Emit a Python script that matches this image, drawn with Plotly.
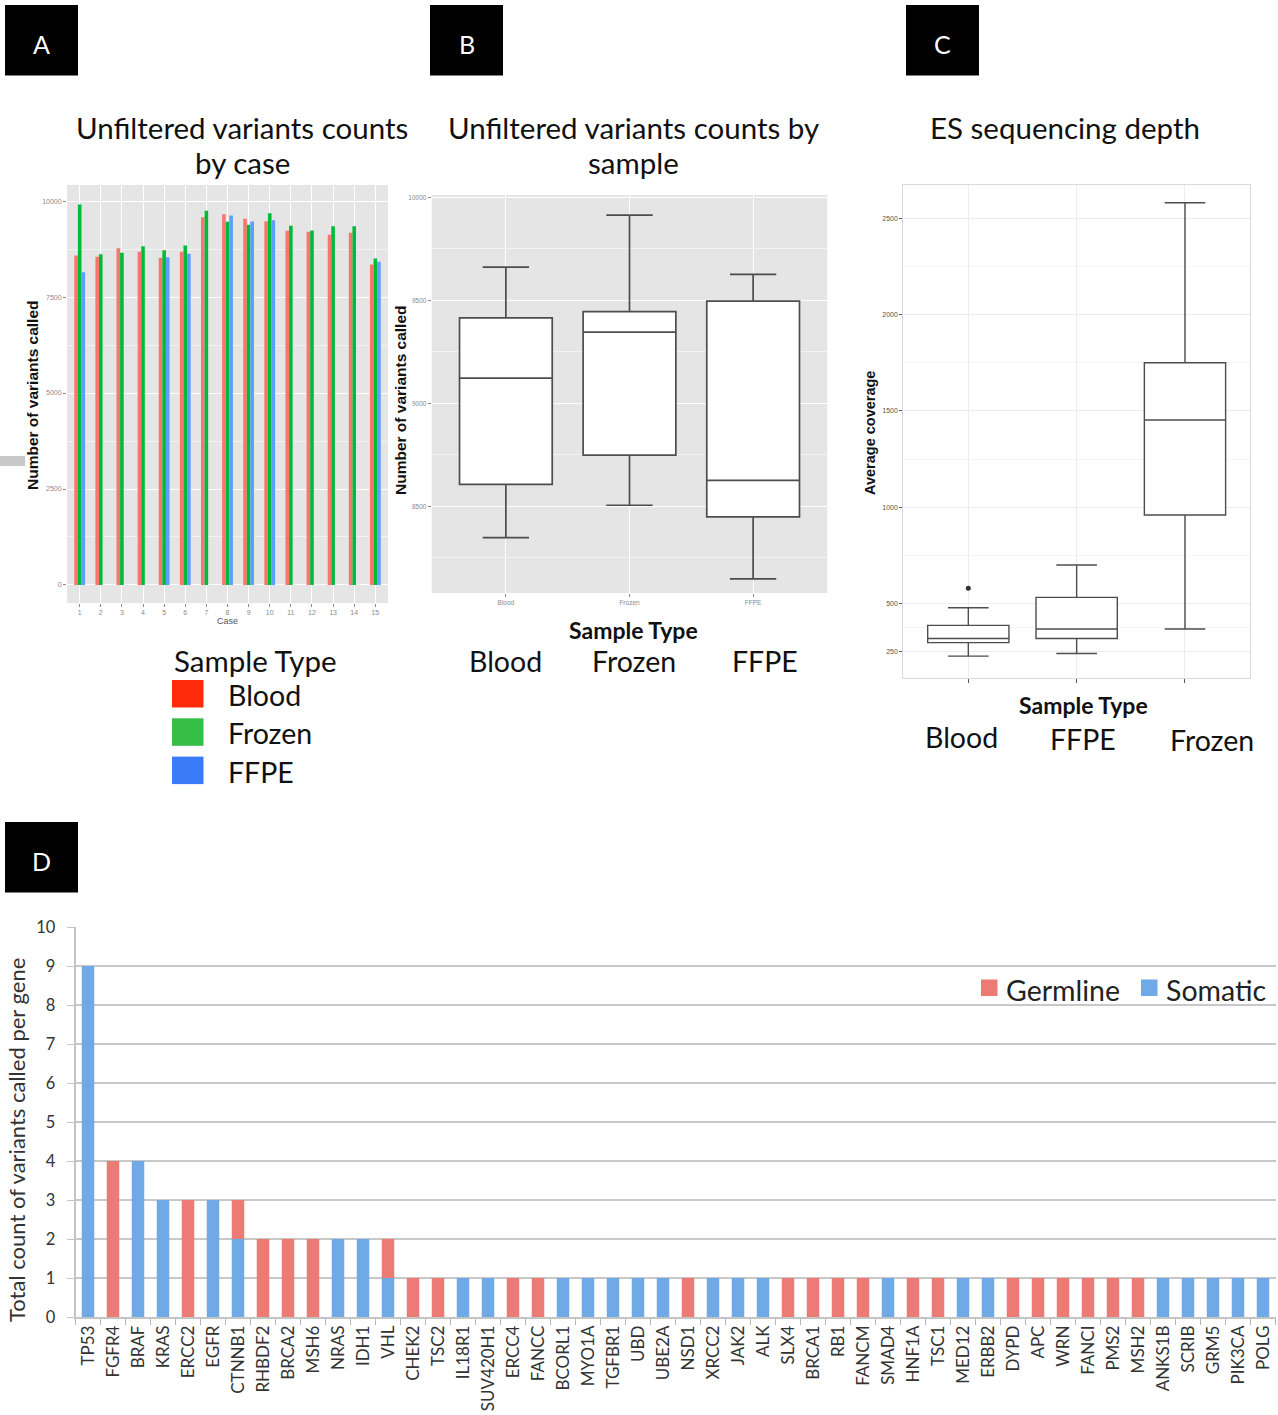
import plotly.graph_objects as go

W, H = 1278, 1415

# ---------------- Panel A / B data: unfiltered variant counts per case ----------------
cases = list(range(1, 16))
blood = [8583, 8548, 8774, 8678, 8522, 8678, 9583, 9661, 9539, 9478, 9226, 9200, 9122, 9174, 8348]
frozen = [9913, 8617, 8652, 8826, 8722, 8843, 9748, 9465, 9383, 9687, 9357, 9235, 9348, 9345, 8505]
ffpe = [8148, None, None, None, 8539, 8626, None, 9626, 9470, 9504, None, None, None, None, 8418]
sample_types = ["Blood", "Frozen", "FFPE"]
bar_colors = ["#F8766D", "#00BA38", "#619CFF"]
legend_colors = ["#ff2a0a", "#36bf47", "#3a7cf7"]

# ---------------- Panel C data: ES sequencing depth (box statistics) ----------------
cov_types = ["Blood", "FFPE", "Frozen"]
cov_lowerfence = [227, 241, 368]
cov_q1 = [297, 319, 960]
cov_median = [319, 368, 1453]
cov_q3 = [387, 532, 1750]
cov_upperfence = [478, 700, 2581]
cov_outlier_type = ["Blood"]
cov_outlier_value = [580]

# ---------------- Panel D data: variants per gene ----------------
genes = ["TP53", "FGFR4", "BRAF", "KRAS", "ERCC2", "EGFR", "CTNNB1", "RHBDF2", "BRCA2", "MSH6",
         "NRAS", "IDH1", "VHL", "CHEK2", "TSC2", "IL18R1", "SUV420H1", "ERCC4", "FANCC", "BCORL1",
         "MYO1A", "TGFBR1", "UBD", "UBE2A", "NSD1", "XRCC2", "JAK2", "ALK", "SLX4", "BRCA1",
         "RB1", "FANCM", "SMAD4", "HNF1A", "TSC1", "MED12", "ERBB2", "DYPD", "APC", "WRN",
         "FANCI", "PMS2", "MSH2", "ANKS1B", "SCRIB", "GRM5", "PIK3CA", "POLG"]
somatic = [9, 0, 4, 3, 0, 3, 2, 0, 0, 0, 2, 2, 1, 0, 0, 1, 1, 0, 0, 1,
           1, 1, 1, 1, 0, 1, 1, 1, 0, 0, 0, 0, 1, 0, 0, 1, 1, 0, 0, 0,
           0, 0, 0, 1, 1, 1, 1, 1]
germline = [0, 4, 0, 0, 3, 0, 1, 2, 2, 2, 0, 0, 1, 1, 1, 0, 0, 1, 1, 0,
            0, 0, 0, 0, 1, 0, 0, 0, 1, 1, 1, 1, 0, 1, 1, 0, 0, 1, 1, 1,
            1, 1, 1, 0, 0, 0, 0, 0]

CAL = "Lato, 'Open Sans', sans-serif"
GG = "'Liberation Sans', Arial, sans-serif"


def X(px):
    return px / W


def Y(py):
    return 1 - py / H


fig = go.Figure()

# ---- Panel A bars ----
a_series = [blood, frozen, ffpe]
offsets = [-0.255, -0.085, 0.085]
for name, vals, col, off in zip(sample_types, a_series, bar_colors, offsets):
    fig.add_trace(go.Bar(x=cases, y=vals, name=name, marker=dict(color=col, line=dict(width=0)),
                         width=0.17, offset=off, xaxis="x", yaxis="y", showlegend=False))

# ---- Panel B boxes (from panel A raw data) ----
bx, by = [], []
for name, vals in zip(sample_types, a_series):
    for v in vals:
        if v is not None:
            bx.append(name)
            by.append(v)
fig.add_trace(go.Box(x=bx, y=by, xaxis="x2", yaxis="y2", width=0.75, boxpoints=False,
                     quartilemethod="linear", fillcolor="white",
                     line=dict(color="#4d4d4d", width=1.7), showlegend=False))

# ---- Panel C boxes ----
fig.add_trace(go.Box(x=cov_types, q1=cov_q1, median=cov_median, q3=cov_q3,
                     lowerfence=cov_lowerfence, upperfence=cov_upperfence,
                     xaxis="x3", yaxis="y3", width=0.75, boxpoints=False, fillcolor="white",
                     line=dict(color="#4d4d4d", width=1.4), showlegend=False))
fig.add_trace(go.Scatter(x=cov_outlier_type, y=cov_outlier_value, mode="markers",
                         marker=dict(color="#333333", size=5), xaxis="x3", yaxis="y3",
                         showlegend=False))

# ---- Panel D stacked bars ----
fig.add_trace(go.Bar(x=genes, y=somatic, name="Somatic", marker=dict(color="#6fa9e6", line=dict(width=0)),
                     width=0.5, xaxis="x4", yaxis="y4", showlegend=False))
fig.add_trace(go.Bar(x=genes, y=germline, base=somatic, name="Germline",
                     marker=dict(color="#ec7b76", line=dict(width=0)),
                     width=0.5, xaxis="x4", yaxis="y4", showlegend=False))

tick_small = dict(size=7, color="#8a8a8a", family=GG)

fig.update_layout(
    width=W, height=H, autosize=False,
    margin=dict(l=0, r=0, t=0, b=0, autoexpand=False),
    paper_bgcolor="white", plot_bgcolor="rgba(0,0,0,0)",
    barmode="overlay",
    # Panel A
    xaxis=dict(domain=[X(67), X(388)], range=[0.4, 15.6], tickvals=cases, automargin=False,
               tickfont=tick_small, ticks="outside", ticklen=3, tickcolor="#8a8a8a",
               showgrid=True, gridcolor="white", gridwidth=1, zeroline=False, showline=False,
               anchor="y"),
    yaxis=dict(domain=[Y(603), Y(185)], range=[-470, 10420], automargin=False,
               tickvals=[0, 2500, 5000, 7500, 10000], tickformat="d", tickfont=tick_small,
               ticks="outside", ticklen=3, tickcolor="#8a8a8a",
               showgrid=True, gridcolor="white", gridwidth=1, zeroline=False,
               minor=dict(tickvals=[1250, 3750, 6250, 8750], showgrid=True, gridcolor="#f3f3f3",
                          gridwidth=0.6, ticks=""),
               anchor="x"),
    # Panel B
    xaxis2=dict(domain=[X(431.7), X(827.3)], range=[-0.6, 2.6], type="category", automargin=False,
                categoryorder="array", categoryarray=sample_types,
                tickfont=dict(size=6.5, color="#8a8a8a", family=GG), ticks="outside", ticklen=3,
                tickcolor="#8a8a8a", showgrid=True, gridcolor="white", gridwidth=1,
                zeroline=False, anchor="y2"),
    yaxis2=dict(domain=[Y(593), Y(195)], range=[8079, 10011], automargin=False,
                tickvals=[8500, 9000, 9500, 10000], tickformat="d",
                tickfont=dict(size=6.5, color="#8a8a8a", family=GG),
                ticks="outside", ticklen=3, tickcolor="#8a8a8a",
                showgrid=True, gridcolor="white", gridwidth=1, zeroline=False,
                minor=dict(tickvals=[8250, 8750, 9250, 9750], showgrid=True, gridcolor="#f3f3f3",
                           gridwidth=0.6, ticks=""),
                anchor="x2"),
    # Panel C
    xaxis3=dict(domain=[X(903.3), X(1250)], range=[-0.6, 2.6], type="category", automargin=False,
                categoryorder="array", categoryarray=cov_types,
                showticklabels=False, ticks="outside", ticklen=4, tickcolor="#555555",
                showgrid=True, gridcolor="#ececec", gridwidth=1, zeroline=False,
                showline=True, mirror=True, linecolor="#dadada", linewidth=1, anchor="y3"),
    yaxis3=dict(domain=[Y(678.3), Y(185)], range=[112, 2673], automargin=False,
                tickvals=[250, 500, 1000, 1500, 2000, 2500], tickformat="d",
                tickfont=dict(size=7, color="#555555", family=GG),
                ticks="outside", ticklen=3, tickcolor="#555555",
                showgrid=True, gridcolor="#ececec", gridwidth=1, zeroline=False,
                showline=True, mirror=True, linecolor="#dadada", linewidth=1,
                minor=dict(tickvals=[375, 750, 1250, 1750, 2250], showgrid=True,
                           gridcolor="#f6f6f6", gridwidth=0.6, ticks=""),
                anchor="x3"),
    # Panel D
    xaxis4=dict(domain=[X(75.5), X(1275.5)], range=[-0.5, 47.5], type="category", automargin=False,
                categoryorder="array", categoryarray=genes, tickangle=-90,
                tickfont=dict(size=17, color="#333333", family=CAL),
                ticks="outside", tickson="boundaries", ticklen=6, tickcolor="#b5b5b5",
                showgrid=False, zeroline=False, showline=True, linecolor="#c4c4c4", linewidth=1.5,
                anchor="y4"),
    yaxis4=dict(domain=[Y(1317), Y(927)], range=[0, 10], dtick=1, automargin=False,
                tickfont=dict(size=16.5, color="#333333", family=CAL),
                ticks="outside", ticklen=7, tickcolor="#c4c4c4", ticklabelstandoff=8,
                showgrid=True, gridcolor="#c8c8c8", gridwidth=1.8, zeroline=False,
                showline=True, linecolor="#c4c4c4", linewidth=1.5, anchor="x4"),
)

shapes = []
# grey panel backgrounds for A and B
for xr, yr in (("x domain", "y domain"), ("x2 domain", "y2 domain")):
    shapes.append(dict(type="rect", xref=xr, yref=yr, x0=0, x1=1, y0=0, y1=1,
                       fillcolor="#e5e5e5", line=dict(width=0), layer="below"))
# stray grey mark at left of panel A
shapes.append(dict(type="rect", xref="paper", yref="paper", x0=X(0), x1=X(25), y0=Y(466), y1=Y(456),
                   fillcolor="#c8c8c8", line=dict(width=0)))
# black panel label boxes
annotations = []
for lab, x0, y0 in (("A", 5, 5), ("B", 430, 5), ("C", 906, 5), ("D", 5, 822)):
    shapes.append(dict(type="rect", xref="paper", yref="paper", x0=X(x0), x1=X(x0 + 73),
                       y0=Y(y0 + 70.5), y1=Y(y0), fillcolor="black", line=dict(width=0)))
    annotations.append(dict(text=lab, xref="paper", yref="paper", x=X(x0 + 36.5), y=Y(y0 + 39),
                            showarrow=False, xanchor="center", yanchor="middle",
                            font=dict(family=CAL, size=25, color="white")))

# Panel A legend (sample types)
annotations.append(dict(text="Sample Type", xref="paper", yref="paper", x=X(172), y=Y(660),
                        xanchor="left", yanchor="middle", showarrow=False,
                        font=dict(family=CAL, size=29.5, color="#111111")))
for i, (name, col) in enumerate(zip(sample_types, legend_colors)):
    top = 680 + i * 38.3
    shapes.append(dict(type="rect", xref="paper", yref="paper", x0=X(172), x1=X(203.5),
                       y0=Y(top + 27.5), y1=Y(top), fillcolor=col, line=dict(width=0)))
    annotations.append(dict(text=name, xref="paper", yref="paper", x=X(226), y=Y(top + 15),
                            xanchor="left", yanchor="middle", showarrow=False,
                            font=dict(family=CAL, size=28.5, color="#111111")))

# Panel D legend
for name, col, sx in (("Germline", "#ec7b76", 981), ("Somatic", "#6fa9e6", 1141)):
    shapes.append(dict(type="rect", xref="paper", yref="paper", x0=X(sx), x1=X(sx + 16.5),
                       y0=Y(996), y1=Y(979.5), fillcolor=col, line=dict(width=0)))
    annotations.append(dict(text=name, xref="paper", yref="paper", x=X(sx + 23), y=Y(990),
                            xanchor="left", yanchor="middle", showarrow=False,
                            font=dict(family=CAL, size=28.5, color="#222222")))


def ann(text, x, y, size, family=CAL, color="#111111", angle=0, bold=False):
    if bold:
        text = "<b>" + text + "</b>"
    annotations.append(dict(text=text, xref="paper", yref="paper", x=X(x), y=Y(y),
                            xanchor="center", yanchor="middle", showarrow=False, textangle=angle,
                            font=dict(family=family, size=size, color=color)))


# titles
ann("Unfiltered variants counts", 242, 128, 29.5)
ann("by case", 242, 162, 29.5)
ann("Unfiltered variants counts by", 633, 128, 29.5)
ann("sample", 633, 162, 29.5)
ann("ES sequencing depth", 1065, 128, 29.5)

# ggplot axis titles
ann("Number of variants called", 32, 395, 15.5, family=GG, color="#111111", angle=-90, bold=True)
ann("Case", 227, 621, 9, family=GG, color="#555555")
ann("Number of variants called", 400, 400, 15.5, family=GG, color="#111111", angle=-90, bold=True)
ann("Average coverage", 870, 433, 14.5, family=GG, color="#111111", angle=-90, bold=True)

# overlaid sample type labels (B and C)
ann("Sample Type", 633, 630, 23, bold=True)
for name, x in (("Blood", 505), ("Frozen", 634), ("FFPE", 765)):
    ann(name, x, 661, 28.5)
ann("Sample Type", 1083, 705, 23, bold=True)
for name, x, y in (("Blood", 961, 737), ("FFPE", 1083, 739), ("Frozen", 1212, 740)):
    ann(name, x, y, 28.5)

# panel D y title
ann("Total count of variants called per gene", 16, 1140, 22, color="#333333", angle=-90)

fig.update_layout(shapes=shapes, annotations=annotations)

fig.write_html("out.html", config=dict(displayModeBar=False),
               post_script="document.body.style.margin='0px';document.body.style.padding='0px';")
